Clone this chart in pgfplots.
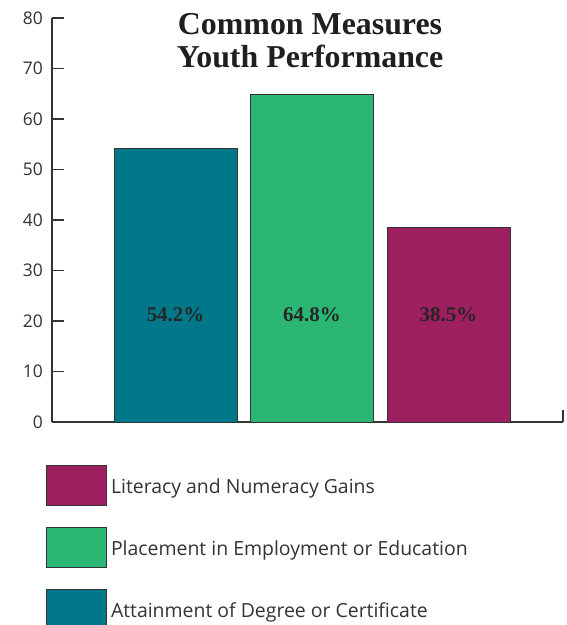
\documentclass[border=0pt]{standalone}
\usepackage{pgfplots}
\pgfplotsset{compat=1.18}
\usepackage{fontspec}
\setmainfont{Liberation Serif}
\newfontfamily\sansf{Open Sans}
\definecolor{cteal}{HTML}{00788A}
\definecolor{cgreen}{HTML}{2BB673}
\definecolor{cmaroon}{HTML}{9E1F5F}
\definecolor{axgray}{HTML}{333333}
\begin{document}
\begin{tikzpicture}
\path[use as bounding box] (0bp,0bp) rectangle (567bp,625bp);
\begin{axis}[
  at={(52bp,203bp)}, anchor=south west, scale only axis,
  width=511bp, height=404bp, clip=false,
  xmin=-0.905, xmax=2.839, ymin=0, ymax=80,
  axis x line=bottom, axis y line=left,
  axis line style={-, axgray, line width=1.3bp},
  ytick={0,10,...,80},
  yticklabel style={font=\sansf\fontsize{17.5}{17.5}\selectfont, text=axgray, inner xsep=0pt, xshift=-9bp},
  /pgf/number format/assume math mode=true,
  tick align=inside, major tick length=12bp,
  tick style={axgray, line width=1.3bp},
  xtick={2.839}, xticklabels={},
  legend cell align=left, reverse legend,
  legend style={at={(-0.0117,-0.106)}, anchor=north west, draw=none, fill=none,
    inner sep=0pt, row sep=21bp, column sep=0pt,
    font=\sansf\fontsize{19.5}{19.5}\selectfont, text=axgray,
    nodes={inner xsep=4bp}},
]
\addplot[ybar, bar width=0.9, bar shift=0pt, fill=cteal, draw=axgray, line width=0.8bp,
  legend image code/.code={\draw[fill=cteal, draw=axgray, line width=0.8bp] (0bp,-18.5bp) rectangle (60bp,21.5bp);}]
  coordinates {(0,54.2)};
\addlegendentry{Attainment of Degree or Certificate}
\addplot[ybar, bar width=0.9, bar shift=0pt, fill=cgreen, draw=axgray, line width=0.8bp,
  legend image code/.code={\draw[fill=cgreen, draw=axgray, line width=0.8bp] (0bp,-18.5bp) rectangle (60bp,21.5bp);}]
  coordinates {(1,64.8)};
\addlegendentry{Placement in Employment or Education}
\addplot[ybar, bar width=0.9, bar shift=0pt, fill=cmaroon, draw=axgray, line width=0.8bp,
  legend image code/.code={\draw[fill=cmaroon, draw=axgray, line width=0.8bp] (0bp,-18.5bp) rectangle (60bp,21.5bp);}]
  coordinates {(2,38.5)};
\addlegendentry{Literacy and Numeracy Gains}
\node[font=\bfseries\fontsize{21}{21}\selectfont, text=black!85] at (axis cs:0,21.2) {54.2\%};
\node[font=\bfseries\fontsize{21}{21}\selectfont, text=black!85] at (axis cs:1,21.2) {64.8\%};
\node[font=\bfseries\fontsize{21}{21}\selectfont, text=black!85] at (axis cs:2,21.2) {38.5\%};
\node[align=center, anchor=north, inner sep=0pt, font=\bfseries\fontsize{32}{33}\selectfont, text=black!88]
  at (rel axis cs:0.505,1.012) {Common Measures\\Youth Performance};
\end{axis}
\end{tikzpicture}
\end{document}
